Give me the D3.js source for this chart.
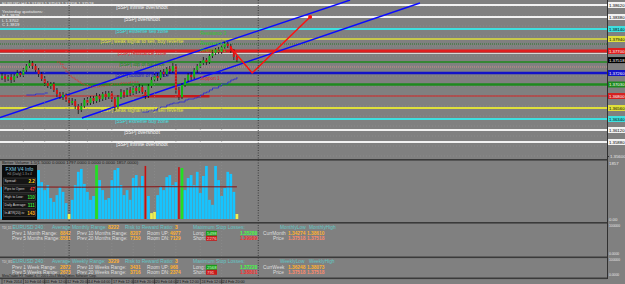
<!DOCTYPE html>
<html>
<head>
<meta charset="utf-8">
<title>EURUSD,H4</title>
<script src="https://cdnjs.cloudflare.com/ajax/libs/d3/7.8.5/d3.min.js"></script>
<style>
  body { margin: 0; background: #808080; }
  svg { display: block; font-family: "Liberation Sans", Arial, sans-serif; }
</style>
</head>
<body>
<svg id="chart" width="625" height="284"></svg>
<script>
// H4 candles, 7 Feb - 25 Feb 2014
const opens = [1.3716,1.3720,1.3714,1.3718,1.3712,1.3720,1.3726,1.3722,1.3732,1.3740,
  1.3746,1.3740,1.3732,1.3724,1.3714,1.3706,1.3700,1.3704,1.3692,1.3684,
  1.3678,1.3682,1.3672,1.3666,1.3670,1.3660,1.3652,1.3660,1.3672,1.3666,
  1.3676,1.3670,1.3680,1.3674,1.3684,1.3678,1.3686,1.3674,1.3658,1.3678,
  1.3688,1.3682,1.3692,1.3686,1.3696,1.3690,1.3698,1.3688,1.3680,1.3700,
  1.3712,1.3720,1.3716,1.3728,1.3724,1.3734,1.3730,1.3740,1.3692,1.3678,
  1.3702,1.3712,1.3722,1.3718,1.3732,1.3740,1.3746,1.3752,1.3748,1.3760,
  1.3766,1.3772,1.3768,1.3778,1.3784,1.3780,1.3770,1.3758];
const highs = [1.3726,1.3724,1.3722,1.3724,1.3724,1.3732,1.3730,1.3736,1.3744,1.3752,
  1.3750,1.3744,1.3736,1.3728,1.3720,1.3710,1.3708,1.3708,1.3696,1.3688,
  1.3688,1.3686,1.3676,1.3676,1.3674,1.3664,1.3666,1.3676,1.3678,1.3680,
  1.3680,1.3686,1.3684,1.3688,1.3690,1.3690,1.3690,1.3678,1.3682,1.3694,
  1.3692,1.3696,1.3698,1.3700,1.3700,1.3704,1.3702,1.3692,1.3704,1.3718,
  1.3724,1.3726,1.3732,1.3734,1.3738,1.3740,1.3746,1.3744,1.3698,1.3706,
  1.3716,1.3726,1.3728,1.3736,1.3744,1.3750,1.3758,1.3756,1.3764,1.3772,
  1.3776,1.3778,1.3782,1.3790,1.3788,1.3784,1.3774,1.3762];
const lows = [1.3712,1.3708,1.3710,1.3706,1.3708,1.3716,1.3718,1.3718,1.3728,1.3736,
  1.3734,1.3728,1.3718,1.3710,1.3700,1.3696,1.3694,1.3688,1.3678,1.3674,
  1.3672,1.3668,1.3660,1.3662,1.3654,1.3644,1.3648,1.3656,1.3660,1.3662,
  1.3664,1.3666,1.3668,1.3670,1.3672,1.3674,1.3668,1.3650,1.3654,1.3674,
  1.3676,1.3678,1.3680,1.3682,1.3684,1.3686,1.3684,1.3674,1.3676,1.3696,
  1.3708,1.3710,1.3712,1.3718,1.3720,1.3724,1.3726,1.3684,1.3672,1.3674,
  1.3698,1.3708,1.3712,1.3714,1.3726,1.3736,1.3742,1.3742,1.3744,1.3756,
  1.3762,1.3764,1.3764,1.3774,1.3776,1.3766,1.3752,1.3748];
const closes = [1.3720,1.3714,1.3718,1.3712,1.3720,1.3726,1.3722,1.3732,1.3740,1.3746,
  1.3740,1.3732,1.3724,1.3714,1.3706,1.3700,1.3704,1.3692,1.3684,1.3678,
  1.3682,1.3672,1.3666,1.3670,1.3660,1.3652,1.3660,1.3672,1.3666,1.3676,
  1.3670,1.3680,1.3674,1.3684,1.3678,1.3686,1.3674,1.3658,1.3678,1.3688,
  1.3682,1.3692,1.3686,1.3696,1.3690,1.3698,1.3688,1.3680,1.3700,1.3712,
  1.3720,1.3716,1.3728,1.3724,1.3734,1.3730,1.3740,1.3692,1.3678,1.3702,
  1.3712,1.3722,1.3718,1.3732,1.3740,1.3746,1.3752,1.3748,1.3760,1.3766,
  1.3772,1.3768,1.3778,1.3784,1.3780,1.3770,1.3758,1.3752];
const lastPrice = 1.37518;

// tick volume per bar (Better Volume)
const volumes = [1090,1150,1460,1390,1730,1320,1120,920,710,610,
  980,1600,1660,1250,980,1150,710,580,810,1090,
  920,540,170,650,1150,1600,1700,1190,920,650,
  780,1830,1320,980,650,710,1320,1660,1730,1150,
  810,980,650,1390,1490,1120,1460,1800,780,200,
  240,810,1090,980,1420,1490,1150,1250,1760,1730,
  980,1390,1490,1150,1600,880,1460,1800,650,480,
  1800,1320,780,1050,1600,1530,920,170];
const climaxBars = [47, 58];
const churnBars = [31, 59];
const lowVolBars = [22, 49, 50, 77];
const avgVolume = [[0, 1090], [26, 1080], [52, 1095], [77, 1090]];

// horizontal levels
const levels = [1.3862, 1.3838, 1.3814, 1.3794, 1.3770, 1.3748, 1.3726, 1.3703, 1.3680, 1.3656, 1.3634, 1.3612, 1.3588];
const levelLabels = ["[5SP] infinite overshoot", "[5SP] overshoot", "[5SP] extreme sell zone",
  "[5SP] weak signal to sell, buy reverse", "[5SP] resistance zone", "[5SP] top of balance",
  "[5SP] bottom of balance", "", "", "[5SP] weak signal to buy, sell reverse",
  "[5SP] extreme buy zone", "[5SP] overshoot", "[5SP] infinite overshoot"];
const minorLevels = [1.3784, 1.3765, 1.3738];
const pivotNames = ["Resistance 3", "Resistance 2", "Resistance 1", "Support 1"];
const pivotPrices = [1.3806, 1.3786, 1.3772, 1.3716];
const redZoneBars = [46, 68];
const redZonePrices = [1.3677, 1.3682];

// trend channel, projection, trailing stops
const channelUpper = [[-0.66, 1.3637], [114.1, 1.3872]];
const channelLower = [[26.2, 1.3636], [137, 1.3866]];
const forecast = [[74.8, 1.3778], [82, 1.3726], [101, 1.3838]];
const blueStopStart = 46;
const blueStop = [1.3648,1.3648,1.3650,1.3650,1.3652,1.3656,1.3658,1.3658,1.3662,1.3664,1.3666,1.3666,
  1.3668,1.3668,1.3672,1.3674,1.3674,1.3676,1.3678,1.3682,1.3686,1.3688,1.3692,1.3696,1.3696,1.3700,
  1.3704,1.3704,1.3708,1.3712,1.3714,1.3718];
const blueStop2Start = 8;
const blueStop2 = [1.3682,1.3682,1.3682,1.3684,1.3684,1.3684,1.3686,1.3686];
const redStopStart = 18;
const redStop = [1.3748,1.3744,1.3736,1.3728,1.3720,1.3716,1.3712,1.3708,1.3704,1.3702,1.3700,1.3698,
  1.3698,1.3698,1.3700,1.3700,1.3702,1.3702,1.3704,1.3704,1.3704,1.3706,1.3706,1.3706,1.3708,1.3708,
  1.3708,1.3708];
const markBars = [22, 84];

// axes
const priceTicks = [1.3560,1.3580,1.3600,1.3620,1.3640,1.3660,1.3680,1.3700,1.3720,1.3740,1.3760,1.3780,1.3800,1.3820,1.3840,1.3860];
const timeBars = [0, 7, 14, 21, 28, 36, 43, 50, 57, 65, 72];
const timeLabels = ["7 Feb 2014", "10 Feb 04:00", "11 Feb 12:00", "12 Feb 20:00", "14 Feb 04:00",
  "17 Feb 12:00", "18 Feb 20:00", "20 Feb 04:00", "21 Feb 12:00", "24 Feb 12:00", "24 Feb 20:00"];

// text blocks
const headerLines = ["EURUSD,H4  1.37463 1.37563 1.37358 1.37518", "Yesterday quotations:", "H 1.3829", "L 1.3702", "C 1.3819"];
const infoRows = ["Spread:", "Pips to Open:", "High to Low:", "Daily Average:", "In ATR(20) is:"];
const infoValues = ["2.2", "47", "110", "111", "143"];
const avgRange = [8222, 3229];
const rewardRatio = [3, 3];
const prev1Range = [8842, 2872];
const prev10Range = [8207, 3431];
const prev5Range = [8581, 2673];
const prev20Range = [7150, 3716];
const roomUp = [4977, 968];
const roomDn = [7129, 2374];
const longStop = ["5498", "2568"];
const longStopPrice = ["1.35280", "1.37220"];
const shortStop = ["2276", "791"];
const shortStopPrice = ["1.39989", "1.38801"];
const periodLow = ["1.34274", "1.36248"];
const periodHigh = ["1.38610", "1.38073"];

const levelStyle = [
  ["#f2f2f2", 2], ["#f2f2f2", 2], ["#3ee0e0", 2], ["#e0e03a", 1.5], ["#e01e1e", 3],
  ["#1e8a1e", 1.5], ["#1212c8", 2.5], ["#1e8a1e", 2.5], ["#d42020", 1.2], ["#e0e03a", 2],
  ["#3ee0e0", 2], ["#f2f2f2", 2], ["#f2f2f2", 2]];
const minorStyle = [["#2a7a2a", "1,1"], ["#d6d6d6", null], ["#d08a8a", "1,1"]];

const svg = d3.select("#chart");
svg.append("rect").attr("width", 625).attr("height", 284).attr("fill", "#808080");

const x = d3.scaleLinear().domain([0, 197]).range([2, 603]);
const y = d3.scaleLinear().domain([1.3552, 1.3872]).range([160, 0]);
const yv = d3.scaleLinear().domain([0, 1900]).range([219, 163]);
const fmt5 = d3.format(".5f");

svg.append("clipPath").attr("id", "mainClip")
  .append("rect").attr("width", 607).attr("height", 159);
const main = svg.append("g").attr("clip-path", "url(#mainClip)");

// grid
main.selectAll(".hgrid").data(priceTicks).enter().append("line")
  .attr("x1", 0).attr("x2", 607)
  .attr("y1", d => y(d)).attr("y2", d => y(d))
  .attr("stroke", "#919191").attr("stroke-width", 0.6).attr("stroke-dasharray", "1,2");
svg.selectAll(".vgrid").data(timeBars.slice(1)).enter().append("line")
  .attr("x1", d => x(d)).attr("x2", d => x(d))
  .attr("y1", 0).attr("y2", 278)
  .attr("stroke", "#919191").attr("stroke-width", 0.6).attr("stroke-dasharray", "1,2");
svg.selectAll(".mark").data(markBars).enter().append("line")
  .attr("x1", d => x(d)).attr("x2", d => x(d))
  .attr("y1", 0).attr("y2", 278)
  .attr("stroke", "#2a2a2a").attr("stroke-width", 0.8).attr("stroke-dasharray", "1,1.5");

// levels
main.selectAll(".minor").data(minorLevels).enter().append("line")
  .attr("x1", 0).attr("x2", 607)
  .attr("y1", d => y(d)).attr("y2", d => y(d))
  .attr("stroke", (d, i) => minorStyle[i][0]).attr("stroke-width", 1)
  .attr("stroke-dasharray", (d, i) => minorStyle[i][1]);
main.selectAll(".level").data(levels).enter().append("line")
  .attr("x1", 0).attr("x2", 607)
  .attr("y1", d => y(d)).attr("y2", d => y(d))
  .attr("stroke", (d, i) => levelStyle[i][0])
  .attr("stroke-width", (d, i) => levelStyle[i][1]);
main.append("rect")
  .attr("x", x(redZoneBars[0])).attr("width", x(redZoneBars[1]) - x(redZoneBars[0]))
  .attr("y", y(redZonePrices[1])).attr("height", y(redZonePrices[0]) - y(redZonePrices[1]))
  .attr("fill", "#c81818");
main.selectAll(".lvlText").data(levels).enter().append("text")
  .attr("x", 142).attr("y", d => y(d) + 4)
  .attr("text-anchor", "middle").attr("font-size", 5)
  .attr("fill", (d, i) => levelStyle[i][0])
  .text((d, i) => levelLabels[i]);

// channel
const pl = d3.line().x(d => x(d[0])).y(d => y(d[1]));
[channelUpper, channelLower].forEach(c => {
  main.append("path").attr("d", pl(c)).attr("fill", "none")
    .attr("stroke", "#0a0aff").attr("stroke-width", 1.4);
});

// trailing stops
const stepLine = d3.line().curve(d3.curveStepAfter).x(d => x(d[0])).y(d => y(d[1]));
main.append("path").attr("d", stepLine(blueStop.map((v, i) => [blueStopStart + i, v])))
  .attr("fill", "none").attr("stroke", "#2828d8").attr("stroke-width", 0.8);
main.append("path").attr("d", stepLine(blueStop2.map((v, i) => [blueStop2Start + i, v])))
  .attr("fill", "none").attr("stroke", "#2828d8").attr("stroke-width", 0.8);
main.append("path").attr("d", stepLine(redStop.map((v, i) => [redStopStart + i, v])))
  .attr("fill", "none").attr("stroke", "#e03030").attr("stroke-width", 0.8)
  .attr("stroke-dasharray", "1.5,1");

// candles
const bars = d3.range(closes.length);
main.selectAll(".wick").data(bars).enter().append("line")
  .attr("x1", i => x(i)).attr("x2", i => x(i))
  .attr("y1", i => y(highs[i])).attr("y2", i => y(lows[i]))
  .attr("stroke", "#111").attr("stroke-width", 0.8);
main.selectAll(".body").data(bars).enter().append("rect")
  .attr("x", i => x(i) - 1).attr("width", 2)
  .attr("y", i => y(Math.max(opens[i], closes[i])))
  .attr("height", i => Math.max(1, Math.abs(y(opens[i]) - y(closes[i]))))
  .attr("fill", i => closes[i] >= opens[i] ? "#14b414" : "#d41414");

// projection
main.append("path").attr("d", pl(forecast)).attr("fill", "none")
  .attr("stroke", "#ff1010").attr("stroke-width", 1.5);
main.append("circle").attr("cx", x(forecast[2][0])).attr("cy", y(forecast[2][1]))
  .attr("r", 2).attr("fill", "#ff1010");

main.selectAll(".pivot").data(pivotPrices).enter().append("text")
  .attr("x", x(65)).attr("y", d => y(d) + 2)
  .attr("font-size", 4.5)
  .attr("fill", (d, i) => pivotNames[i].startsWith("Support") ? "#e02828" : "#2ec82e")
  .text((d, i) => pivotNames[i]);

svg.selectAll(".hdr").data(headerLines).enter().append("text")
  .attr("x", 2).attr("y", (d, i) => i === 0 ? 5 : 8 + i * 4.5)
  .attr("font-size", 4.3).attr("fill", "#ececec")
  .text(d => d);

// right axis (labels hidden where a line price box sits)
const freeLevels = levels.filter(l => Math.abs(y(l) - y(lastPrice)) > 5);
const boxPrices = freeLevels.concat([lastPrice]);
const freeTicks = priceTicks.filter(t => boxPrices.every(b => Math.abs(y(t) - y(b)) > 6));
const ax = svg.append("g").attr("transform", "translate(607,0)")
  .call(d3.axisRight(y).tickValues(freeTicks).tickSize(2).tickFormat(fmt5));
ax.select(".domain").remove();
ax.selectAll("line").attr("stroke", "#303030");
ax.selectAll("text").attr("font-size", 4.3).attr("fill", "#e8e8e8").attr("x", 3);
const boxes = svg.selectAll(".lvlBox").data(freeLevels).enter().append("g")
  .attr("transform", d => "translate(608," + y(d) + ")");
boxes.append("rect").attr("y", -3).attr("width", 17).attr("height", 6)
  .attr("fill", d => levelStyle[levels.indexOf(d)][0]);
boxes.append("text").attr("x", 1).attr("y", 1.6).attr("font-size", 4.3)
  .attr("fill", d => ["#1212c8", "#e01e1e", "#d42020", "#1e8a1e"].includes(levelStyle[levels.indexOf(d)][0]) ? "#fff" : "#000")
  .text(d => fmt5(d));
const cur = svg.append("g").attr("transform", "translate(608," + y(lastPrice) + ")");
cur.append("rect").attr("y", -3).attr("width", 17).attr("height", 6).attr("fill", "#000");
cur.append("text").attr("x", 1).attr("y", 1.6).attr("font-size", 4.3).attr("fill", "#fff").text(fmt5(lastPrice));

// panel borders
[159, 222, 256.5, 277.5].forEach(v => {
  svg.append("rect").attr("x", 0).attr("y", v).attr("width", 607).attr("height", 1.6).attr("fill", "#3a3a3a");
});
svg.append("line").attr("x1", 607.5).attr("x2", 607.5).attr("y1", 0).attr("y2", 279)
  .attr("stroke", "#303030").attr("stroke-width", 1);

// volume panel
svg.selectAll(".vol").data(bars).enter().append("rect")
  .attr("x", i => climaxBars.includes(i) ? x(i) - 0.8 : x(i) - 1.35)
  .attr("width", i => climaxBars.includes(i) ? 1.6 : 2.7)
  .attr("y", i => yv(volumes[i]))
  .attr("height", i => yv(0) - yv(volumes[i]))
  .attr("fill", i => climaxBars.includes(i) ? "#c81010" : churnBars.includes(i) ? "#22e022" :
    lowVolBars.includes(i) ? "#f0f050" : "#16c4ff");
svg.append("path")
  .attr("d", d3.line().x(d => x(d[0])).y(d => yv(d[1]))(avgVolume))
  .attr("fill", "none").attr("stroke", "#8a1010").attr("stroke-width", 1);
svg.append("text").attr("x", 2).attr("y", 164).attr("font-size", 4.3).attr("fill", "#1a1a1a")
  .text("Better Volume 1.5(1.5000 0.0000 1797.0000 0.0000 0.0000 1857.0000)");
svg.append("text").attr("x", 609).attr("y", 164.5).attr("font-size", 4.3).attr("fill", "#e8e8e8").text("1857");
svg.append("text").attr("x", 609).attr("y", 221).attr("font-size", 4.3).attr("fill", "#e8e8e8").text("0.00");

const box = svg.append("g");
box.append("rect").attr("x", 2).attr("y", 165).attr("width", 35).attr("height", 55).attr("fill", "#0c0c0c");
box.append("text").attr("x", 19.5).attr("y", 171).attr("text-anchor", "middle")
  .attr("font-size", 5).attr("fill", "#7fd0e8").text("FXM V4 Info");
box.append("text").attr("x", 19.5).attr("y", 175).attr("text-anchor", "middle")
  .attr("font-size", 3.2).attr("fill", "#9a9a9a").text("H4 (Daily) 1.3 x 4");
const valColors = ["#ffd21e", "#ff3a3a", "#3ee03e", "#3ee03e", "#ffb41e"];
infoRows.forEach((r, i) => {
  const ry = 178 + i * 8;
  box.append("rect").attr("x", 3.5).attr("y", ry).attr("width", 32).attr("height", 6.5)
    .attr("fill", "#151515").attr("stroke", "#555").attr("stroke-width", 0.5);
  box.append("text").attr("x", 4.5).attr("y", ry + 4.4).attr("font-size", 3.4).attr("fill", "#d6d6d6").text(r);
  box.append("text").attr("x", 34.8).attr("y", ry + 4.8).attr("text-anchor", "end")
    .attr("font-size", 4.6).attr("font-weight", "bold").attr("fill", valColors[i]).text(infoValues[i]);
});

// range panels
const teal = "#63c6c6", orange = "#ffb030", light = "#dedede";
function txt(g, tx, ty, s, fill, opt) {
  const t = g.append("text").attr("x", tx).attr("y", ty).attr("font-size", opt && opt.size || 4.8)
    .attr("fill", fill).text(s);
  if (opt && opt.bold) t.attr("font-weight", "bold");
  return t;
}
[223, 257].forEach((top, k) => {
  const g = svg.append("g");
  const M = k === 0;
  const r1 = top + 6, r2 = top + 12, r3 = top + 17;
  txt(g, 2, r1, M ? "TDI_D1" : "TDI_W1", light, {size: 2.8});
  txt(g, 12.5, r1, "EURUSD 240", teal, {size: 5});
  txt(g, 52, r1, M ? "Average Monthly Range:" : "Average Weekly Range:", teal, {size: 5});
  txt(g, 108, r1, avgRange[k], orange, {size: 5, bold: true});
  txt(g, 125, r1, "Risk to Reward Ratio:", teal, {size: 5});
  txt(g, 175, r1, rewardRatio[k], orange, {size: 5, bold: true});
  txt(g, 193, r1, "Maximum Stop Losses:", teal, {size: 5});
  txt(g, 280, r1, M ? "MonthlyLow" : "WeeklyLow", teal);
  txt(g, 309, r1, M ? "MonthlyHigh" : "WeeklyHigh", teal);

  txt(g, 12, r2, M ? "Prev 1 Month Range:" : "Prev 1 Week Range:", light);
  txt(g, 60, r2, prev1Range[k], orange, {bold: true});
  txt(g, 77, r2, M ? "Prev 10 Months Range:" : "Prev 10 Weeks Range:", light);
  txt(g, 130, r2, prev10Range[k], orange, {bold: true});
  txt(g, 147, r2, "Room UP:", light);
  txt(g, 170, r2, roomUp[k], orange, {bold: true});
  txt(g, 193, r2, "Long:", light);
  g.append("rect").attr("x", 206).attr("y", r2 - 4.2).attr("width", 11).attr("height", 5).attr("fill", "#1c9a1c");
  txt(g, 207, r2, longStop[k], "#c8ffc8", {size: 4.3});
  txt(g, 240, r2, longStopPrice[k], "#44ff44", {bold: true});
  txt(g, 263, r2, M ? "CurrMonth" : "CurrWeek", light);
  txt(g, 288, r2, periodLow[k], orange, {bold: true});
  txt(g, 307, r2, periodHigh[k], orange, {bold: true});

  txt(g, 12, r3, M ? "Prev 5 Months Range:" : "Prev 5 Weeks Range:", light);
  txt(g, 60, r3, prev5Range[k], orange, {bold: true});
  txt(g, 77, r3, M ? "Prev 20 Months Range:" : "Prev 20 Weeks Range:", light);
  txt(g, 130, r3, prev20Range[k], orange, {bold: true});
  txt(g, 147, r3, "Room DN:", light);
  txt(g, 170, r3, roomDn[k], orange, {bold: true});
  txt(g, 193, r3, "Short:", light);
  g.append("rect").attr("x", 206).attr("y", r3 - 4.2).attr("width", 11).attr("height", 5).attr("fill", "#c81c1c");
  txt(g, 207, r3, shortStop[k], "#ffd0d0", {size: 4.3});
  txt(g, 240, r3, shortStopPrice[k], "#ff3030", {bold: true});
  txt(g, 273, r3, "Price", light);
  txt(g, 288, r3, fmt5(lastPrice), "#ff8a6a", {bold: true});
  txt(g, 307, r3, fmt5(lastPrice), "#ff8a6a", {bold: true});
  txt(g, 609, top + 4, "100000", "#e8e8e8", {size: 3.3});
  txt(g, 609, top + (M ? 32 : 19), "0.0000", "#e8e8e8", {size: 3.3});
});
txt(svg, 2, 276.8, "MetaTrader FX Trader 4, \u00a9 2001-2013 MetaQuotes Software Corp.", "#1a1a1a", {size: 3.2});

// time axis
const tg = svg.append("g");
tg.selectAll("line").data(timeBars).enter().append("line")
  .attr("x1", d => x(d)).attr("x2", d => x(d)).attr("y1", 279).attr("y2", 284)
  .attr("stroke", "#2a2a2a").attr("stroke-width", 0.6);
tg.selectAll("text").data(timeBars).enter().append("text")
  .attr("x", d => x(d) + 1.2).attr("y", 283).attr("font-size", 3.7).attr("fill", "#141414")
  .text((d, i) => timeLabels[i]);
</script>
</body>
</html>
